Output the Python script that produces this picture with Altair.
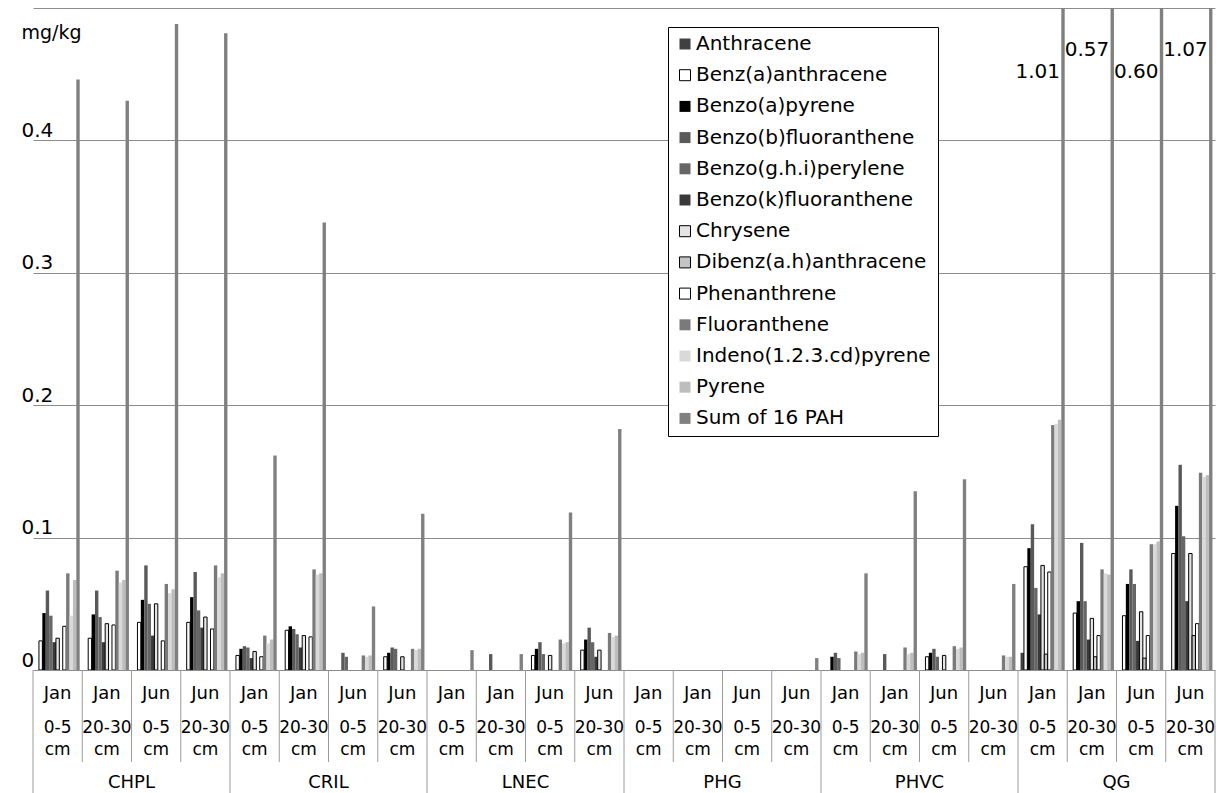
import altair as alt
import pandas as pd

FONT = "DejaVu Sans"

sites = ["CHPL", "CRIL", "LNEC", "PHG", "PHVC", "QG"]
months = ["Jan", "Jan", "Jun", "Jun"]
depths = ["0-5", "20-30", "0-5", "20-30"]

series = [
    "Anthracene", "Benz(a)anthracene", "Benzo(a)pyrene", "Benzo(b)fluoranthene",
    "Benzo(g.h.i)perylene", "Benzo(k)fluoranthene", "Chrysene", "Dibenz(a.h)anthracene",
    "Phenanthrene", "Fluoranthene", "Indeno(1.2.3.cd)pyrene", "Pyrene", "Sum of 16 PAH",
]

# values per series, 24 samples: CHPL x4, CRIL x4, LNEC x4, PHG x4, PHVC x4, QG x4
anthracene = [0, 0, 0, 0, 0, 0, 0, 0, 0, 0, 0, 0, 0, 0, 0, 0, 0, 0, 0, 0, 0.013, 0, 0, 0]
benz_a_anthracene = [0.022, 0.024, 0.036, 0.036, 0.011, 0.030, 0, 0.010, 0, 0, 0.011, 0.015,
                     0, 0, 0, 0, 0, 0, 0.010, 0, 0.078, 0.043, 0.041, 0.088]
benzo_a_pyrene = [0.043, 0.042, 0.053, 0.055, 0.016, 0.033, 0, 0.013, 0, 0, 0.016, 0.023,
                  0, 0, 0, 0, 0.010, 0, 0.013, 0, 0.092, 0.052, 0.065, 0.124]
benzo_b_fluoranthene = [0.060, 0.060, 0.079, 0.074, 0.018, 0.031, 0.013, 0.017, 0, 0.012, 0.021, 0.032,
                        0, 0, 0, 0, 0.013, 0.012, 0.016, 0, 0.110, 0.096, 0.076, 0.155]
benzo_ghi_perylene = [0.041, 0.040, 0.050, 0.045, 0.017, 0.027, 0.010, 0.016, 0, 0, 0.012, 0.021,
                      0, 0, 0, 0, 0.009, 0, 0.010, 0, 0.062, 0.052, 0.065, 0.101]
benzo_k_fluoranthene = [0.021, 0.021, 0.026, 0.032, 0.009, 0.017, 0, 0, 0, 0, 0, 0.010,
                        0, 0, 0, 0, 0, 0, 0, 0, 0.042, 0.023, 0.022, 0.052]
chrysene = [0.024, 0.035, 0.050, 0.040, 0.014, 0.026, 0, 0.010, 0, 0, 0.011, 0.015,
            0, 0, 0, 0, 0, 0, 0.011, 0, 0.079, 0.039, 0.044, 0.088]
dibenz_ah_anthracene = [0, 0, 0, 0, 0, 0, 0, 0, 0, 0, 0, 0,
                        0, 0, 0, 0, 0, 0, 0, 0, 0.012, 0.010, 0.009, 0.026]
phenanthrene = [0.033, 0.034, 0.022, 0.031, 0.010, 0.025, 0, 0, 0, 0, 0, 0,
                0, 0, 0, 0, 0, 0, 0, 0, 0.074, 0.026, 0.026, 0.035]
fluoranthene = [0.073, 0.075, 0.065, 0.079, 0.026, 0.076, 0.011, 0.016, 0, 0, 0.023, 0.028,
                0, 0, 0, 0, 0.014, 0.017, 0.018, 0.011, 0.185, 0.076, 0.095, 0.149]
indeno_pyrene = [0.041, 0.066, 0.058, 0.070, 0.020, 0.072, 0.010, 0.015, 0, 0, 0.020, 0.025,
                 0, 0, 0, 0, 0.012, 0.012, 0.016, 0.010, 0.186, 0.073, 0.095, 0.146]
pyrene = [0.068, 0.068, 0.061, 0.073, 0.023, 0.073, 0.011, 0.016, 0, 0, 0.021, 0.026,
          0, 0, 0, 0, 0.013, 0.013, 0.017, 0.010, 0.189, 0.072, 0.097, 0.147]
sum_16_pah = [0.446, 0.430, 0.488, 0.481, 0.162, 0.338, 0.048, 0.118, 0.015, 0.012, 0.119, 0.182,
              0, 0, 0, 0.009, 0.073, 0.135, 0.144, 0.065, 1.01, 0.57, 0.60, 1.07]

values = [anthracene, benz_a_anthracene, benzo_a_pyrene, benzo_b_fluoranthene,
          benzo_ghi_perylene, benzo_k_fluoranthene, chrysene, dibenz_ah_anthracene,
          phenanthrene, fluoranthene, indeno_pyrene, pyrene, sum_16_pah]

fills = ["#404040", "#ffffff", "#000000", "#595959", "#666666", "#3a3a3a", "#e4e4e4",
         "#c4c4c4", "#ffffff", "#7a7a7a", "#d9d9d9", "#bdbdbd", "#808080"]
strokes = ["transparent", "#000000", "transparent", "transparent", "transparent", "transparent",
           "#000000", "#000000", "#000000", "transparent", "transparent", "transparent", "transparent"]

# ---- tables ----
grp_rows = []
for s in sites:
    for i in range(4):
        grp_rows.append({"grp": f"{s} {months[i]} {depths[i]}", "site": s,
                         "month": months[i], "depth": depths[i], "pos": i})
grp_df = pd.DataFrame(grp_rows)
group_order = list(grp_df["grp"])

bar_rows = []
for name, vals in zip(series, values):
    for g, v in zip(grp_rows, vals):
        bar_rows.append({"grp": g["grp"], "depth": g["depth"], "series": name, "value": v})
bar_df = pd.DataFrame(bar_rows)
sum_df = bar_df[(bar_df["series"] == "Sum of 16 PAH") & (bar_df["value"] > 0.5)]

W, H = 1182, 662

xscale = alt.Scale(domain=group_order, paddingInner=0, paddingOuter=0)
offscale = alt.Scale(domain=series, paddingInner=0, paddingOuter=0.75)

leg = alt.Legend(title=None, orient="none", legendX=635, legendY=19,
                 fillColor="white", strokeColor="black", padding=7, rowPadding=11.2,
                 labelFont=FONT, labelFontSize=20, labelColor="black", labelLimit=400,
                 symbolType="square", symbolSize=121, symbolStrokeWidth=1, labelOffset=1)

bars = alt.Chart(bar_df).transform_filter("datum.value > 0").mark_bar(clip=True, strokeWidth=1).encode(
    x=alt.X("grp:N", scale=xscale, axis=None),
    xOffset=alt.XOffset("series:N", scale=offscale),
    y=alt.Y("value:Q", scale=alt.Scale(domain=[0, 0.5], nice=False),
            axis=alt.Axis(values=[0, 0.1, 0.2, 0.3, 0.4, 0.5],
                          labelExpr="datum.value >= 0.5 ? '' : (datum.value == 0 ? '0' : format(datum.value, '.1f'))",
                          domain=False, ticks=False, grid=True, gridColor="#8c8c8c", gridWidth=1,
                          labelFont=FONT, labelFontSize=20, labelColor="black",
                          labelAlign="left", labelBaseline="bottom", labelPadding=12,
                          title="mg/kg", titleAngle=0, titleAlign="left", titleBaseline="middle",
                          titleX=-12, titleY=24, titleFont=FONT, titleFontSize=19,
                          titleFontWeight="normal", titleColor="black")),
    fill=alt.Fill("series:N", scale=alt.Scale(domain=series, range=fills), legend=leg),
    stroke=alt.Stroke("series:N", scale=alt.Scale(domain=series, range=strokes), legend=leg),
)

sum_lo = alt.Chart(sum_df).transform_filter("datum.depth == '0-5'").mark_text(
    align="right", baseline="middle", dx=-3, font=FONT, fontSize=20, color="black").encode(
    x=alt.X("grp:N", scale=xscale, axis=None),
    xOffset=alt.XOffset("series:N", scale=offscale),
    y=alt.value(64),
    text=alt.Text("value:Q", format=".2f"),
)
sum_hi = alt.Chart(sum_df).transform_filter("datum.depth == '20-30'").mark_text(
    align="right", baseline="middle", dx=-3, font=FONT, fontSize=20, color="black").encode(
    x=alt.X("grp:N", scale=xscale, axis=None),
    xOffset=alt.XOffset("series:N", scale=offscale),
    y=alt.value(42),
    text=alt.Text("value:Q", format=".2f"),
)

month_t = alt.Chart(grp_df).mark_text(font=FONT, fontSize=18, baseline="middle", color="black").encode(
    x=alt.X("grp:N", scale=xscale, axis=None), y=alt.value(686), text="month:N")
depth_t = alt.Chart(grp_df).mark_text(font=FONT, fontSize=17, baseline="middle", color="black").encode(
    x=alt.X("grp:N", scale=xscale, axis=None), y=alt.value(720), text="depth:N")
cm_t = alt.Chart(grp_df).mark_text(font=FONT, fontSize=17, baseline="middle", color="black").encode(
    x=alt.X("grp:N", scale=xscale, axis=None), y=alt.value(742), text=alt.value("cm"))
site_t = alt.Chart(grp_df).transform_filter("datum.pos == 2").mark_text(
    font=FONT, fontSize=18, baseline="middle", color="black").encode(
    x=alt.X("grp:N", scale=xscale, axis=None, bandPosition=0), y=alt.value(775), text="site:N")

inner_r = alt.Chart(grp_df).transform_filter("datum.pos > 0").mark_rule(color="#9a9a9a", strokeWidth=1).encode(
    x=alt.X("grp:N", scale=xscale, axis=None, bandPosition=0), y=alt.value(662), y2=alt.value(754))
outer_r = alt.Chart(grp_df).transform_filter("datum.pos == 0").mark_rule(color="#9a9a9a", strokeWidth=1).encode(
    x=alt.X("grp:N", scale=xscale, axis=None, bandPosition=0), y=alt.value(662), y2=alt.value(790))
end_r = alt.Chart(grp_df).transform_filter(f"datum.grp == '{group_order[-1]}'").mark_rule(
    color="#9a9a9a", strokeWidth=1).encode(
    x=alt.X("grp:N", scale=xscale, axis=None, bandPosition=1), y=alt.value(662), y2=alt.value(790))

chart = alt.layer(
    bars, sum_lo, sum_hi, inner_r, outer_r, end_r, month_t, depth_t, cm_t, site_t
).properties(
    width=W, height=H, padding={"left": 13, "top": 0, "right": 0, "bottom": 0}
).configure_view(stroke=None)

chart.save("out.html", embed_options={"renderer": "svg", "actions": False})
